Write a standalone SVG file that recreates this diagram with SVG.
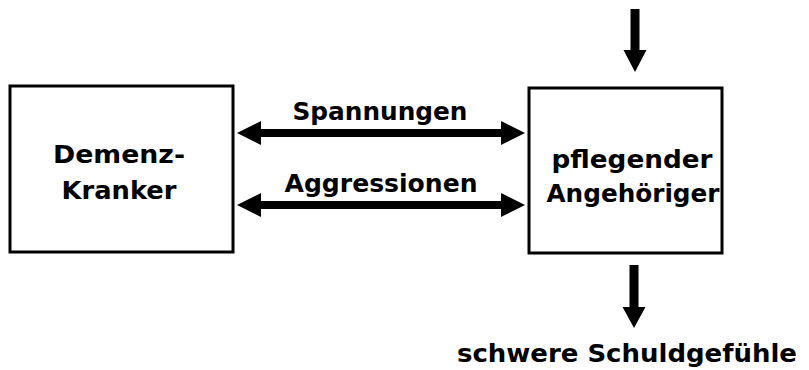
<svg xmlns="http://www.w3.org/2000/svg" width="809" height="370" viewBox="0 0 809 370">
<style>
.box{fill:#fff;stroke:#000;stroke-width:3}
.t{font-family:"Comic Sans MS","DejaVu Sans",sans-serif;font-weight:bold;font-size:25px;fill:#000;text-anchor:middle}
.arr{fill:#000}
</style>
<rect width="809" height="370" fill="#fff"/>
<g id="node-demenz">
<rect class="box" x="10" y="86" width="223" height="166"/>
<text class="t" x="119" y="163" textLength="132" lengthAdjust="spacingAndGlyphs">Demenz-</text>
<text class="t" x="119" y="199" textLength="115" lengthAdjust="spacingAndGlyphs">Kranker</text>
</g>
<g id="node-angehoeriger">
<rect class="box" x="529" y="88" width="193" height="165"/>
<text class="t" x="632" y="168" textLength="161" lengthAdjust="spacingAndGlyphs">pflegender</text>
<text class="t" x="633" y="202" textLength="173" lengthAdjust="spacingAndGlyphs">Angehöriger</text>
</g>
<g id="node-schuld">
<text class="t" x="627" y="362" textLength="340" lengthAdjust="spacingAndGlyphs">schwere Schuldgefühle</text>
</g>
<g id="connectors">
<polygon class="arr" points="237,133 261,121 261,129 501,129 501,121 525,133 501,145 501,137 261,137 261,145"/>
<text class="t" x="380" y="120" textLength="175" lengthAdjust="spacingAndGlyphs">Spannungen</text>
<polygon class="arr" points="237,205 261,193 261,201 501,201 501,193 525,205 501,217 501,209 261,209 261,217"/>
<text class="t" x="381" y="192" textLength="193" lengthAdjust="spacingAndGlyphs">Aggressionen</text>
<polygon class="arr" points="630.5,9 639.5,9 639.5,50 646.5,50 635,72 623.5,50 630.5,50"/>
<polygon class="arr" points="629.5,265 638.5,265 638.5,307 645.5,307 634,328 622.5,307 629.5,307"/>
</g>
</svg>
